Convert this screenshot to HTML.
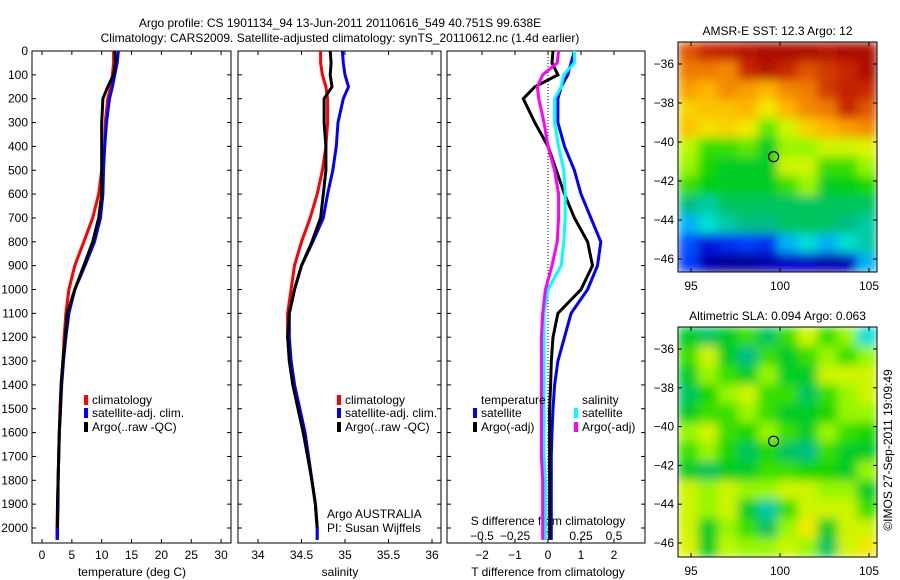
<!DOCTYPE html>
<html><head><meta charset="utf-8">
<style>
body{margin:0;background:#fff;}
svg{display:block;font-family:"Liberation Sans",sans-serif;}
text{font-size:12px;fill:#000;}
</style></head>
<body>
<svg id="fig" width="900" height="580" xmlns="http://www.w3.org/2000/svg">
<defs>
<filter id="smooth" x="0" y="0" width="1" height="1"><feGaussianBlur stdDeviation="5" edgeMode="duplicate"/></filter>
<clipPath id="clip1"><rect x="678" y="42" width="199" height="230"/></clipPath>
<clipPath id="clip2"><rect x="678" y="327" width="199" height="230"/></clipPath>
</defs>
</svg>
<script>
// ---- data ----
const depths=[0,50,100,150,200,300,400,500,600,700,800,900,1000,1100,1200,1300,1400,1500,1600,1700,1800,1900,2000,2050];
const tempClim=[12,12,11.8,11.5,11,10.6,10.5,10,9.5,8.5,7,5.5,4.5,4,3.7,3.5,3.2,3,2.9,2.8,2.7,2.6,2.5,2.5];
const tempSat=[12.8,12.6,12.2,11.8,11.3,10.8,10.5,10.3,10.2,9.8,8.8,7.2,5.5,4.5,4,3.6,3.3,3.1,2.9,2.8,2.7,2.7,2.6,2.6];
const tempArgo=[12.2,12.3,12,11,10.2,10,10,10,10,9.5,8.5,7,5.5,4.2,3.9,3.5,3.2,3.1,2.9,2.8,2.7,2.6,2.6,2.6];
const salClim=[34.72,34.72,34.74,34.78,34.8,34.8,34.78,34.74,34.68,34.6,34.5,34.42,34.38,34.34,34.34,34.38,34.42,34.48,34.54,34.58,34.62,34.66,34.68,34.68];
const salSat=[34.97,34.98,35.0,35.04,34.98,34.92,34.9,34.86,34.8,34.75,34.63,34.5,34.42,34.36,34.36,34.38,34.42,34.48,34.54,34.58,34.62,34.66,34.68,34.68];
const salArgo=[34.83,34.84,34.83,34.85,34.76,34.76,34.78,34.78,34.75,34.72,34.62,34.5,34.42,34.36,34.34,34.36,34.4,34.46,34.52,34.57,34.62,34.66,34.68,34.68];
const dTsat=[0.8,0.7,0.6,0.4,0.3,0.3,0.5,0.8,1.0,1.3,1.6,1.5,1.2,0.7,0.5,0.3,0.2,0.15,0.12,0.1,0.1,0.1,0.1,0.1];
const dTargo=[0.15,0.12,0.3,-0.4,-0.75,-0.4,0,0.25,0.5,0.8,1.2,1.35,1.0,0.3,0.15,0.1,0.08,0.05,0.05,0.05,0.05,0.05,0.05,0.05];
const dSsat=[0.2,0.2,0.12,0.1,0.05,0.05,0.08,0.12,0.13,0.13,0.12,0.1,0.0,-0.03,-0.03,-0.03,-0.03,-0.03,-0.03,-0.03,-0.02,-0.02,-0.02,-0.02];
const dSargo=[0.08,0.07,-0.04,-0.08,-0.07,-0.03,0.0,0.05,0.08,0.08,0.07,0.03,-0.02,-0.04,-0.05,-0.05,-0.05,-0.05,-0.05,-0.05,-0.04,-0.04,-0.04,-0.04];
const depthTicks=[0,100,200,300,400,500,600,700,800,900,1000,1100,1200,1300,1400,1500,1600,1700,1800,1900,2000];
const tempTicks=[0,5,10,15,20,25,30];
const salTicks=[34,34.5,35,35.5,36];
const dTTicks=[-2,-1,0,1,2];
const dSTicks=[-0.5,-0.25,0,0.25,0.5];
const dSTickLabels=['\u22120.5','\u22120.25','0','0.25','0.5'];
const sstGrid=[
[0.85,0.9,0.92,0.95,0.97,0.97,0.97,0.95,0.97,0.97],
[0.8,0.8,0.78,0.9,0.95,0.9,0.85,0.88,0.9,0.97],
[0.75,0.72,0.78,0.75,0.72,0.78,0.8,0.88,0.92,0.9],
[0.68,0.7,0.7,0.72,0.65,0.72,0.78,0.8,0.9,0.85],
[0.7,0.66,0.68,0.65,0.52,0.6,0.68,0.72,0.75,0.78],
[0.58,0.5,0.5,0.52,0.45,0.55,0.55,0.6,0.6,0.62],
[0.55,0.48,0.45,0.45,0.45,0.6,0.6,0.5,0.5,0.55],
[0.5,0.46,0.45,0.45,0.45,0.5,0.55,0.45,0.46,0.48],
[0.4,0.38,0.42,0.42,0.42,0.42,0.42,0.42,0.42,0.42],
[0.3,0.35,0.38,0.4,0.4,0.42,0.42,0.42,0.4,0.38],
[0.22,0.15,0.18,0.2,0.18,0.3,0.35,0.3,0.35,0.38],
[0.2,0.08,0.05,0.05,0.08,0.12,0.12,0.08,0.1,0.3]];
const slaGrid=[
[0.45,0.42,0.45,0.5,0.42,0.5,0.6,0.5,0.55,0.35],
[0.5,0.6,0.45,0.4,0.5,0.45,0.5,0.55,0.5,0.55],
[0.45,0.55,0.5,0.45,0.55,0.45,0.45,0.6,0.6,0.6],
[0.42,0.48,0.55,0.6,0.5,0.5,0.42,0.5,0.55,0.6],
[0.45,0.5,0.5,0.55,0.5,0.45,0.45,0.48,0.55,0.55],
[0.55,0.6,0.5,0.48,0.55,0.5,0.45,0.55,0.5,0.48],
[0.5,0.55,0.48,0.42,0.48,0.42,0.4,0.5,0.45,0.45],
[0.45,0.42,0.45,0.45,0.5,0.5,0.48,0.48,0.45,0.55],
[0.6,0.55,0.6,0.55,0.55,0.6,0.6,0.55,0.55,0.45],
[0.6,0.55,0.6,0.45,0.38,0.5,0.6,0.6,0.6,0.5],
[0.6,0.45,0.55,0.5,0.42,0.55,0.65,0.45,0.6,0.6],
[0.62,0.45,0.58,0.55,0.55,0.6,0.55,0.42,0.6,0.65]];
const latTicks=[-36,-38,-40,-42,-44,-46];
const lonTicks=[95,100,105];
const argoLon=99.638, argoLat=-40.751;

// ---- helpers ----
const svg=document.getElementById('fig');
const NS='http://www.w3.org/2000/svg';
function mk(tag,attrs,parent){const e=document.createElementNS(NS,tag);for(const k in attrs)e.setAttribute(k,attrs[k]);(parent||svg).appendChild(e);return e;}
function txt(x,y,s,anchor,name,extra){const t=mk('text',Object.assign({x:x,y:y,'text-anchor':anchor||'start'},extra||{}));t.textContent=s;


return t;}
const TOP=51,BOT=543;
const yD=d=>TOP+d*0.2385;
function frame(x0,x1,name){const r=mk('rect',{x:x0,y:TOP,width:x1-x0,height:BOT-TOP,fill:'none',stroke:'#000','stroke-width':1});

}
function line(vals,xf,color,name,n){const m=n||vals.length;let p='';for(let i=0;i<m;i++)p+=(i?'L':'M')+xf(vals[i]).toFixed(1)+','+yD(depths[i]).toFixed(1);
const e=mk('path',{d:p,fill:'none',stroke:color,'stroke-width':3});

}
function xticks(vals,xf,y0,labels,name,len){vals.forEach((v,i)=>{const x=xf(v);mk('line',{x1:x,x2:x,y1:BOT,y2:BOT-(len||4),stroke:'#000'});mk('line',{x1:x,x2:x,y1:TOP,y2:TOP+(len||4),stroke:'#000'});txt(x,y0,labels?labels[i]:String(v),'middle',name);});}
function legendItem(x,y,color,label,name){const r=mk('rect',{x:x,y:y-9,width:4,height:10,fill:color});


txt(x+8,y,label,'start',name);}

// titles
txt(340,27,'Argo profile: CS 1901134_94 13-Jun-2011 20110616_549 40.751S 99.638E','middle','title-line-1');
txt(340,42,'Climatology: CARS2009. Satellite-adjusted climatology: synTS_20110612.nc (1.4d earlier)','middle','title-line-2');

// panel 1 temperature
const xT=v=>42+v*5.97;
frame(32,231,'temperature-panel');
depthTicks.forEach(d=>{txt(28,yD(d)+4,String(d),'end','depth-tick-label');mk('line',{x1:32,x2:36,y1:yD(d),y2:yD(d),stroke:'#000'});mk('line',{x1:231,x2:227,y1:yD(d),y2:yD(d),stroke:'#000'});});
xticks(tempTicks,xT,559,null,'temperature-tick-label');
txt(132,576,'temperature (deg C)','middle','temperature-axis-title');
line(tempClim,xT,'#f00','temp-climatology-line');
line(tempSat,xT,'#00f','temp-satellite-line');
line(tempArgo,xT,'#000','temp-argo-line',23);
legendItem(84,404,'#f00','climatology','legend-climatology');
legendItem(84,417,'#00f','satellite-adj. clim.','legend-satellite');
legendItem(84,431,'#000','Argo(..raw -QC)','legend-argo');

// panel 2 salinity
const xS=v=>258+(v-34)*87;
frame(238,441,'salinity-panel');
depthTicks.forEach(d=>{mk('line',{x1:238,x2:242,y1:yD(d),y2:yD(d),stroke:'#000'});mk('line',{x1:441,x2:437,y1:yD(d),y2:yD(d),stroke:'#000'});});
xticks(salTicks,xS,559,null,'salinity-tick-label');
txt(340,576,'salinity','middle','salinity-axis-title');
line(salClim,xS,'#f00','sal-climatology-line');
line(salSat,xS,'#00f','sal-satellite-line');
line(salArgo,xS,'#000','sal-argo-line',23);
legendItem(337,404,'#f00','climatology','legend-sal-climatology');
legendItem(337,417,'#00f','satellite-adj. clim.','legend-sal-satellite');
legendItem(337,431,'#000','Argo(..raw -QC)','legend-sal-argo');
txt(327,518,'Argo AUSTRALIA','start','argo-country-label');
txt(327,532,'PI: Susan Wijffels','start','pi-label');

// panel 3 differences
const xdT=v=>548+v*33;
const xdS=v=>548+v*132;
frame(447,645,'difference-panel');
depthTicks.forEach(d=>{mk('line',{x1:447,x2:451,y1:yD(d),y2:yD(d),stroke:'#000'});mk('line',{x1:645,x2:641,y1:yD(d),y2:yD(d),stroke:'#000'});});
mk('line',{x1:548,x2:548,y1:TOP,y2:BOT,stroke:'#000','stroke-dasharray':'1,2'});
xticks(dTTicks,xdT,559,['\u22122','\u22121','0','1','2'],'t-diff-tick-label');
dSTicks.forEach((v,i)=>txt(xdS(v),540,dSTickLabels[i],'middle','s-diff-tick-label'));
txt(548,525,'S difference from climatology','middle','s-diff-axis-title');
txt(548,576,'T difference from climatology','middle','t-diff-axis-title');
line(dTsat,xdT,'#00f','dT-satellite-line');
line(dTargo,xdT,'#000','dT-argo-line');
line(dSsat,xdS,'#0ff','dS-satellite-line');
line(dSargo,xdS,'#f0f','dS-argo-line');
txt(481,404,'temperature','start','legend-temperature-heading');
txt(582,404,'salinity','start','legend-salinity-heading');
legendItem(473,417,'#00f','satellite','legend-dT-satellite');
legendItem(473,431,'#000','Argo(-adj)','legend-dT-argo');
legendItem(574,417,'#0ff','satellite','legend-dS-satellite');
legendItem(574,431,'#f0f','Argo(-adj)','legend-dS-argo');

// colormap
const cmapStops=[[0,[0,0,120]],[0.12,[0,0,200]],[0.2,[0,60,255]],[0.28,[0,150,255]],[0.34,[0,230,230]],[0.4,[0,190,130]],[0.47,[0,210,0]],[0.56,[170,250,0]],[0.64,[240,240,0]],[0.72,[255,180,0]],[0.82,[235,110,0]],[0.9,[200,40,0]],[1,[160,0,0]]];
function cmap(v){v=Math.max(0,Math.min(1,v));for(let i=1;i<cmapStops.length;i++){const a=cmapStops[i-1],b=cmapStops[i];if(v<=b[0]){const t=(v-a[0])/(b[0]-a[0]);return 'rgb('+a[1].map((c,k)=>Math.round(c+t*(b[1][k]-c))).join(',')+')';}}return 'rgb(160,0,0)';}
function map(grid,x0,y0,w,h,lat36,lat46,title,name,clip){
  txt(x0+w/2,y0-7,title,'middle',name+'-title');
  const g0=mk('g',{'clip-path':'url(#'+clip+')'});
  const g=mk('g',{filter:'url(#smooth)'},g0);
  const rows=grid.length,cols=grid[0].length,cw=w/cols,ch=h/rows;
  grid.forEach((row,r)=>row.forEach((v,c)=>{const e=mk('rect',{x:(x0+c*cw).toFixed(2),y:(y0+r*ch).toFixed(2),width:(cw+0.5).toFixed(2),height:(ch+0.5).toFixed(2),fill:cmap(v)},g);
  
  }));
  const yL=l=>lat36+(l+36)/(-10)*(lat46-lat36);
  const xL=l=>x0+13+(l-95)*17.8;
  const f=mk('rect',{x:x0,y:y0,width:w,height:h,fill:'none',stroke:'#000'});
  
  
  latTicks.forEach(l=>{const y=yL(l);mk('line',{x1:x0,x2:x0+4,y1:y,y2:y,stroke:'#000'});mk('line',{x1:x0+w,x2:x0+w-4,y1:y,y2:y,stroke:'#000'});txt(x0-4,y+4,String(l).replace('-','\u2212'),'end',name+'-lat-label');});
  lonTicks.forEach(l=>{const x=xL(l);mk('line',{x1:x,x2:x,y1:y0,y2:y0+4,stroke:'#000'});mk('line',{x1:x,x2:x,y1:y0+h,y2:y0+h-4,stroke:'#000'});txt(x,y0+h+18,String(l),'middle',name+'-lon-label');});
  const m=mk('circle',{cx:xL(argoLon),cy:yL(argoLat),r:5,fill:'none',stroke:'#000','stroke-width':1.2});
  
  
}
map(sstGrid,678,42,199,230,64,259,'AMSR-E SST: 12.3 Argo: 12','sst-map','clip1');
map(slaGrid,678,327,199,230,349,543,'Altimetric SLA: 0.094 Argo: 0.063','sla-map','clip2');
txt(0,0,'\u00A9IMOS 27-Sep-2011 19:09:49','middle','imos-timestamp',{transform:'translate(892,450) rotate(-90)'});
</script>
</body></html>
